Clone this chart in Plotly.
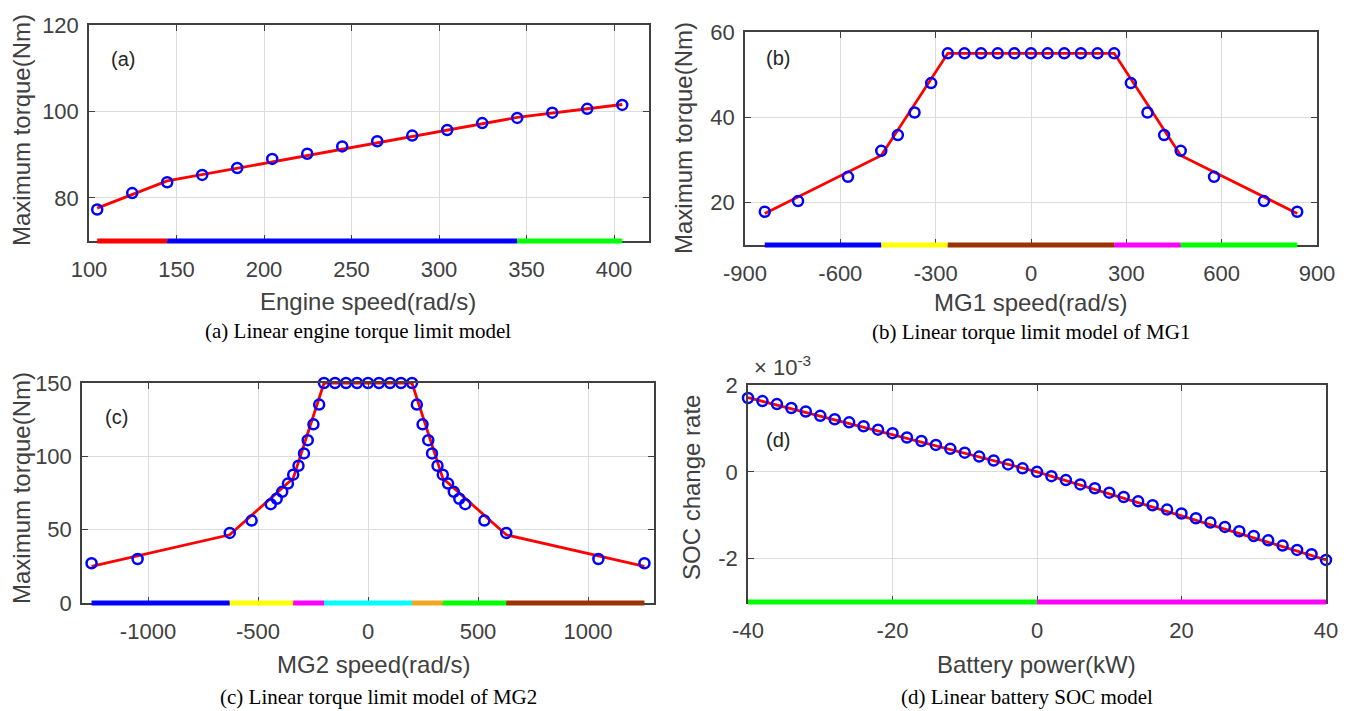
import plotly.graph_objects as go

# ---------------- data ----------------
engine_speed = [104.7, 124.7, 144.7, 164.7, 184.7, 204.7, 224.7, 244.7,
                264.7, 284.7, 304.7, 324.7, 344.7, 364.7, 384.7, 404.7]
engine_torque = [77.3, 81.1, 83.6, 85.3, 86.9, 89.0, 90.2, 91.9,
                 93.1, 94.4, 95.7, 97.3, 98.5, 99.7, 100.6, 101.5]
engine_fit_speed = [104.7, 144.7, 344.7, 404.7]
engine_fit_torque = [77.6, 83.9, 98.6, 101.6]
engine_seg_colors = ["#ff0000", "#0000ff", "#00ff00"]

mg1_speed = [-837.8, -733.0, -576.0, -471.2, -418.9, -366.5, -314.2, -261.8,
             -209.4, -157.1, -104.7, -52.4, 0.0, 52.4, 104.7, 157.1, 209.4,
             261.8, 314.2, 366.5, 418.9, 471.2, 576.0, 733.0, 837.8]
mg1_torque = [17.8, 20.3, 26.0, 32.1, 35.8, 41.1, 48.0, 55.0,
              55.0, 55.0, 55.0, 55.0, 55.0, 55.0, 55.0, 55.0, 55.0,
              55.0, 48.0, 41.1, 35.8, 32.1, 26.0, 20.3, 17.8]
mg1_fit_speed = [-837.8, -471.2, -261.8, 261.8, 471.2, 837.8]
mg1_fit_torque = [17.4, 31.0, 55.0, 55.0, 31.0, 17.4]
mg1_seg_colors = ["#0000ff", "#ffff00", "#993300", "#ff00ff", "#00ff00"]

mg2_speed = [-1256.6, -1047.2, -628.3, -529, -442, -415, -390, -364, -340,
             -316, -291, -274, -248, -222, -200, -150, -100, -50, 0,
             50, 100, 150, 200, 222, 248, 274, 291, 316, 340, 364, 390,
             415, 442, 529, 628.3, 1047.2, 1256.6]
mg2_torque = [27.1, 30.0, 47.8, 56.2, 67.4, 71.1, 75.8, 81.4, 87.5,
              93.6, 102.0, 111.0, 121.8, 135.3, 150, 150, 150, 150, 150,
              150, 150, 150, 150, 135.3, 121.8, 111.0, 102.0, 93.6, 87.5,
              81.4, 75.8, 71.1, 67.4, 56.2, 47.8, 30.0, 27.1]
mg2_fit_speed = [-1256.6, -628.3, -340, -200, 200, 340, 628.3, 1256.6]
mg2_fit_torque = [25.0, 46.5, 85.0, 150, 150, 85.0, 46.5, 25.0]
mg2_seg_colors = ["#0000ff", "#ffff00", "#ff00ff", "#00ffff", "#eda820",
                  "#00ff00", "#993300"]

battery_power = [-40, -38, -36, -34, -32, -30, -28, -26, -24, -22, -20, -18,
                 -16, -14, -12, -10, -8, -6, -4, -2, 0, 2, 4, 6, 8, 10, 12,
                 14, 16, 18, 20, 22, 24, 26, 28, 30, 32, 34, 36, 38, 40]
soc_rate = [1.70e-3, 1.63e-3, 1.56e-3, 1.47e-3, 1.39e-3, 1.29e-3, 1.21e-3,
            1.14e-3, 1.05e-3, 0.97e-3, 0.89e-3, 0.79e-3, 0.71e-3, 0.62e-3,
            0.53e-3, 0.44e-3, 0.35e-3, 0.26e-3, 0.17e-3, 0.08e-3, 0.0,
            -0.10e-3, -0.19e-3, -0.29e-3, -0.38e-3, -0.48e-3, -0.58e-3,
            -0.68e-3, -0.77e-3, -0.87e-3, -0.96e-3, -1.07e-3, -1.17e-3,
            -1.27e-3, -1.37e-3, -1.48e-3, -1.58e-3, -1.70e-3, -1.80e-3,
            -1.90e-3, -2.03e-3]
soc_fit_power = [-40, 0, 40]
soc_fit_rate = [1.71e-3, 0.0, -2.03e-3]
soc_seg_colors = ["#00ff00", "#ff00ff"]

# tick labels
engine_ticks = [100, 150, 200, 250, 300, 350, 400]
engine_torque_ticks = [80, 100, 120]
mg1_ticks = [-900, -600, -300, 0, 300, 600, 900]
mg1_torque_ticks = [20, 40, 60]
mg2_ticks = [-1000, -500, 0, 500, 1000]
mg2_torque_ticks = [0, 50, 100, 150]
power_ticks = [-40, -20, 0, 20, 40]
soc_ticks = [-2e-3, 0, 2e-3]
soc_tick_text = ["-2", "0", "2"]

# ---------------- figure ----------------
PAGE_W, PAGE_H = 1360, 711
OFF = 8                      # default body margin of the html page
W, H = PAGE_W - OFF, PAGE_H - OFF
fig = go.Figure()

AX = "#404040"
GRID = "#dcdcdc"
SANS = "Liberation Sans, Arial, sans-serif"
SERIF = "Liberation Serif, Times New Roman, serif"

panels = [
    ("", engine_speed, engine_torque, engine_fit_speed, engine_fit_torque, engine_seg_colors),
    ("2", mg1_speed, mg1_torque, mg1_fit_speed, mg1_fit_torque, mg1_seg_colors),
    ("3", mg2_speed, mg2_torque, mg2_fit_speed, mg2_fit_torque, mg2_seg_colors),
    ("4", battery_power, soc_rate, soc_fit_power, soc_fit_rate, soc_seg_colors),
]

shapes = []
for suf, xs, ys, fx, fy, cols in panels:
    xa, ya = "x" + suf, "y" + suf
    fig.add_trace(go.Scatter(x=fx, y=fy, mode="lines", xaxis=xa, yaxis=ya,
                             line=dict(color="#ff0000", width=2.8),
                             showlegend=False, hoverinfo="skip"))
    fig.add_trace(go.Scatter(x=xs, y=ys, mode="markers", xaxis=xa, yaxis=ya,
                             marker=dict(symbol="circle-open", size=10, color="#0000ff",
                                         line=dict(width=2.5, color="#0000ff")),
                             cliponaxis=False, showlegend=False))
    for i, c in enumerate(cols):
        shapes.append(dict(type="line", xref=xa, yref=ya + " domain",
                           x0=fx[i], x1=fx[i + 1], y0=0, y1=0,
                           line=dict(color=c, width=5), layer="above"))

def px_dom(x0, x1):
    return [(x0 - OFF) / W, (x1 - OFF) / W]

def py_dom(top, bottom):
    return [1 - (bottom - OFF) / H, 1 - (top - OFF) / H]

def labels(vals):
    return [str(v) for v in vals]

common_ax = dict(showline=True, linecolor=AX, linewidth=1.5, mirror="allticks",
                 ticks="inside", ticklen=6, tickwidth=1.3, tickcolor=AX,
                 showgrid=True, gridcolor=GRID, gridwidth=1, zeroline=False,
                 automargin=False, tickmode="array",
                 tickfont=dict(family=SANS, size=22, color=AX))

layout_axes = dict(
    xaxis=dict(domain=px_dom(89, 649), range=[100, 420], tickvals=engine_ticks,
               ticktext=labels(engine_ticks), anchor="y", ticklabelstandoff=8, **common_ax),
    yaxis=dict(domain=py_dom(25, 241), range=[70, 120], tickvals=engine_torque_ticks,
               ticktext=labels(engine_torque_ticks), anchor="x", ticklabelstandoff=4, **common_ax),
    xaxis2=dict(domain=px_dom(745, 1317), range=[-900, 900], tickvals=mg1_ticks,
                ticktext=labels(mg1_ticks), anchor="y2", ticklabelstandoff=8, **common_ax),
    yaxis2=dict(domain=py_dom(32, 245), range=[10, 60], tickvals=mg1_torque_ticks,
                ticktext=labels(mg1_torque_ticks), anchor="x2", ticklabelstandoff=4, **common_ax),
    xaxis3=dict(domain=px_dom(82, 654), range=[-1300, 1300], tickvals=mg2_ticks,
                ticktext=labels(mg2_ticks), anchor="y3", ticklabelstandoff=8, **common_ax),
    yaxis3=dict(domain=py_dom(383, 603), range=[0, 150], tickvals=mg2_torque_ticks,
                ticktext=labels(mg2_torque_ticks), anchor="x3", ticklabelstandoff=4, **common_ax),
    xaxis4=dict(domain=px_dom(748, 1326), range=[-40, 40], tickvals=power_ticks,
                ticktext=labels(power_ticks), anchor="y4", ticklabelstandoff=8, **common_ax),
    yaxis4=dict(domain=py_dom(385, 602), range=[-3e-3, 2e-3], tickvals=soc_ticks,
                ticktext=soc_tick_text, anchor="x4", ticklabelstandoff=4, **common_ax),
)

def ann(text, x, y, size, family=SANS, color=AX, angle=0, xanchor="center"):
    return dict(text=text, x=(x - OFF) / W, y=1 - (y - OFF) / H,
                xref="paper", yref="paper",
                showarrow=False, textangle=angle, xanchor=xanchor, yanchor="middle",
                font=dict(family=family, size=size, color=color))

annotations = [
    ann("Maximum torque(Nm)", 22, 130, 24, angle=-90),
    ann("Engine speed(rad/s)", 368, 301, 24),
    ann("Maximum torque(Nm)", 683, 138, 24, angle=-90),
    ann("MG1 speed(rad/s)", 1031, 302, 24),
    ann("Maximum torque(Nm)", 22, 488, 24, angle=-90),
    ann("MG2 speed(rad/s)", 373, 664, 24),
    ann("SOC change rate", 692, 488, 24, angle=-90),
    ann("Battery power(kW)", 1036, 664, 24),
    ann("(a) Linear engine torque limit model", 358, 331, 21, SERIF, "#000000"),
    ann("(b) Linear torque limit model of MG1", 1031, 332, 21, SERIF, "#000000"),
    ann("(c) Linear torque limit model of MG2", 378, 697, 21, SERIF, "#000000"),
    ann("(d) Linear battery SOC model", 1027, 697, 21, SERIF, "#000000"),
    ann("(a)", 123, 59, 20, color="#262626"),
    ann("(b)", 778, 58, 20, color="#262626"),
    ann("(c)", 116, 417, 20, color="#262626"),
    ann("(d)", 778, 440, 20, color="#262626"),
    ann("\u00d7 10<sup>-3</sup>", 752, 366, 22, xanchor="left"),
]

fig.update_layout(template="none", width=W, height=H,
                  margin=dict(l=0, r=0, t=0, b=0, autoexpand=False),
                  paper_bgcolor="white", plot_bgcolor="white", showlegend=False,
                  shapes=shapes, annotations=annotations, **layout_axes)

fig.write_html("out.html")
